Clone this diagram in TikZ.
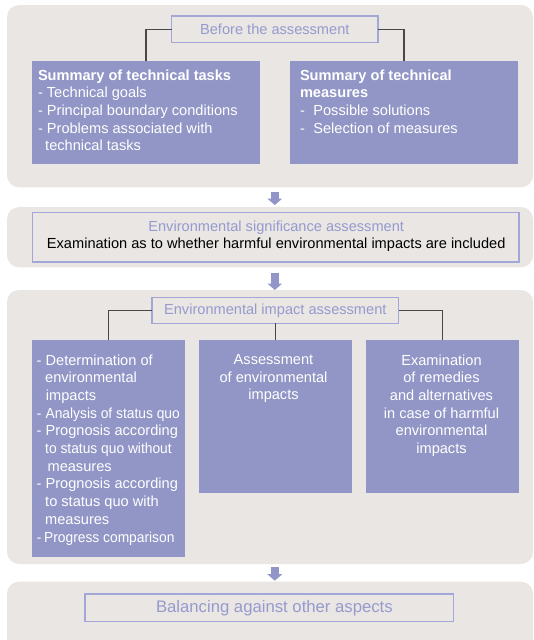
\documentclass[tikz,border=0pt]{standalone}
\usepackage{fontspec}
\setmainfont{Liberation Sans}
\usetikzlibrary{arrows.meta}

\definecolor{panelgray}{RGB}{233,230,227}
\definecolor{boxblue}{RGB}{145,150,198}
\definecolor{framelilac}{RGB}{163,167,216}
\definecolor{titletext}{RGB}{150,154,206}
\definecolor{linkgray}{RGB}{72,72,72}

\newcommand\boxfont{\fontsize{14.6}{17.7}\selectfont}
\newcommand\bigboxfont{\fontsize{16.7}{20}\selectfont}
% narrower set for the longest lines of the left column
\newcommand\snug[1]{\scalebox{0.945}[1]{#1}}

\tikzset{
  panel/.style={fill=panelgray, draw=none, rounded corners=12pt,
    inner sep=0pt, outer sep=0pt},
  titlebox/.style={draw=framelilac, line width=1.3pt, fill=panelgray,
    inner sep=0pt, outer sep=0pt, text=titletext, font=\boxfont},
  taskbox/.style={fill=boxblue, draw=none, inner sep=0pt, outer sep=0pt},
  boxtext/.style={inner sep=0pt, outer sep=0pt, text=white, font=\boxfont},
  link/.style={draw=linkgray, line width=1.2pt},
  flow/.style={draw=boxblue, line width=8pt,
    -{Triangle[width=14.5pt, length=6.5pt]}},
}

\begin{document}
\begin{tikzpicture}[x=1pt, y=-1pt]
\useasboundingbox (0,0) rectangle (533,640);

% grey stage panels
\node[panel, minimum width=526pt, minimum height=182.3pt] (p1) at (270,96.2) {};
\node[panel, minimum width=526pt, minimum height=60.3pt]  (p2) at (270,237.2) {};
\node[panel, minimum width=526pt, minimum height=274pt]   (p3) at (270,427) {};
\node[panel, minimum width=526pt, minimum height=80pt]    (p4) at (270,621.7) {};

% stage 1: before the assessment
\node[titlebox, minimum width=206.4pt, minimum height=26.3pt] (t1) at (274.8,29.2)
  {Before the assessment};
\node[taskbox, minimum width=228pt, minimum height=103pt] (b1l) at (146,112.8) {};
\node[taskbox, minimum width=227.7pt, minimum height=103pt] (b1r) at (403.9,112.8) {};
\draw[link] (t1.west) -| (b1l.north);
\draw[link] (t1.east) -| (b1r.north);

\node[boxtext, anchor=north west, align=left] (b1lt) at (38,69.5)
  {\textbf{Summary of technical tasks}\\
   - Technical goals\\
   - Principal boundary conditions\\
   - Problems associated with\\
   \hspace*{7.2pt}technical tasks};
\node[boxtext, anchor=north west, align=left] (b1rt) at (300,69.5)
  {\textbf{Summary of technical}\\
   \textbf{measures}\\
   -\hspace{8.5pt}Possible solutions\\
   -\hspace{8.5pt}Selection of measures};

% stage 2: significance assessment
\node[titlebox, minimum width=486.7pt, minimum height=49.7pt] (e2) at (275.6,237.2) {};
\node[boxtext, anchor=north, align=center, text=black] (e2t) at (276.2,220.5)
  {\textcolor{titletext}{Environmental significance assessment}\\
   Examination as to whether harmful environmental impacts are included};

% stage 3: impact assessment
\node[titlebox, minimum width=246.7pt, minimum height=26pt] (t3) at (275.3,310.3)
  {Environmental impact assessment};
\node[taskbox, minimum width=152.6pt, minimum height=216.7pt] (b3l) at (108.3,448.3) {};
\node[taskbox, minimum width=153pt, minimum height=152.7pt] (b3m) at (275.3,416.3) {};
\node[taskbox, minimum width=153pt, minimum height=152.7pt] (b3r) at (442.5,416.3) {};
\draw[link] (t3.west) -| (b3l.north);
\draw[link] (t3.south) -- (b3m.north);
\draw[link] (t3.east) -| (b3r.north);

\node[boxtext, anchor=north west, align=left] (b3lt) at (36.7,354.5)
  {- Determination of\\
   \hspace*{8.5pt}environmental\\
   \hspace*{9.2pt}impacts\\
   - \snug{Analysis of status quo}\\
   - Prognosis according\\
   \hspace*{8.5pt}\snug{to status quo without}\\
   \hspace*{10.9pt}measures\\
   - Prognosis according\\
   \hspace*{8.5pt}to status quo with\\
   \hspace*{8.5pt}measures\\
   -\hspace{2.6pt}\snug{Progress comparison}};
\node[boxtext, anchor=north, align=center] (b3mt) at (273.5,354.5)
  {Assessment\\of environmental\\impacts};
\node[boxtext, anchor=north, align=center] (b3rt) at (441.5,354.5)
  {Examination\\of remedies\\and alternatives\\in case of harmful\\environmental\\impacts};

% stage 4: balancing
\node[titlebox, font=\bigboxfont, minimum width=368.8pt, minimum height=27.7pt] (e4)
  at (269.4,607.8) {\hspace*{10pt}Balancing against other aspects};

% block arrows between the stages
\draw[flow, shorten <=4.7pt, shorten >=2pt] (p1.south -| t1.center) -- (p2.north -| t1.center);
\draw[flow, shorten <=5.4pt] (p2.south -| t1.center) -- (p3.north -| t1.center);
\draw[flow, shorten <=3.3pt, shorten >=1pt] (p3.south -| t1.center) -- (p4.north -| t1.center);
\end{tikzpicture}
\end{document}
